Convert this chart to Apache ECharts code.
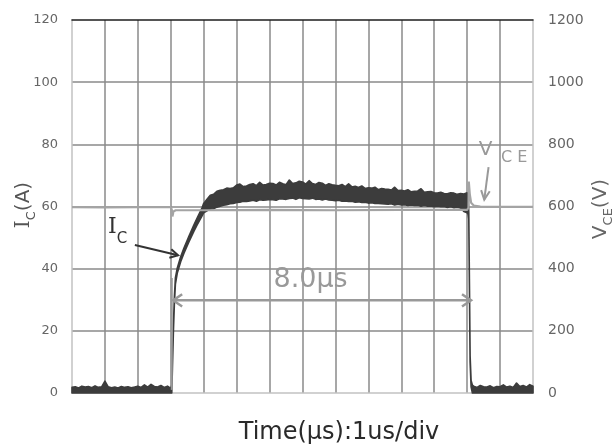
<!DOCTYPE html>
<html><head><meta charset="utf-8">
<script src="https://cdn.jsdelivr.net/npm/echarts@6/dist/echarts.min.js"></script>
<style>html,body{margin:0;padding:0;background:#fff}#c{width:612px;height:446px}</style>
</head><body><div id="c"></div>
<script>
// ---- Data ----
// Collector current I_C (A): time (us), lower and upper edge of the noisy trace
const icTime = [
  0,0.1,0.2,0.3,0.4,0.5,0.6,0.7,0.8,0.9,1.0,1.1,1.2,1.3,1.4,1.5,1.6,1.7,1.8,1.9,2.0,2.1,2.2,2.3,2.4,2.5,2.6,2.7,2.8,2.9,3.0,
  3.03,3.05,3.08,3.11,3.14,3.2,3.3,3.4,3.55,3.7,3.8,3.95,
  4.0,4.1,4.2,4.3,4.4,4.5,4.6,4.7,4.8,4.9,5.0,5.1,5.2,5.3,5.4,5.5,5.6,5.7,5.8,5.9,6.0,6.1,6.2,6.3,6.4,6.5,6.6,6.7,6.8,6.9,
  7.0,7.1,7.2,7.3,7.4,7.5,7.6,7.7,7.8,7.9,8.0,8.1,8.2,8.3,8.4,8.5,8.6,8.7,8.8,8.9,9.0,9.1,9.2,9.3,9.4,9.5,9.6,9.7,9.8,9.9,
  10.0,10.1,10.2,10.3,10.4,10.5,10.6,10.7,10.8,10.9,11.0,11.1,11.2,11.3,11.4,11.5,11.6,11.7,11.8,11.9,12.0,
  12.03,12.05,12.07,12.09,12.12,12.16,
  12.2,12.3,12.4,12.5,12.6,12.7,12.8,12.9,13.0,13.1,13.2,13.3,13.4,13.5,13.6,13.7,13.8,13.9,14.0
];
const icHigh = [
  1.8,2.0,1.6,2.2,1.9,2.1,1.7,2.3,1.8,2.0,3.8,2.0,1.7,1.9,1.6,2.1,1.8,2.0,1.7,1.9,2.2,1.8,2.6,1.9,2.8,2.1,1.9,2.4,1.8,2.2,1.5,
  2.5,10,22,31,37,40.3,43.8,46.6,50.4,54.0,56.3,59.6,
  61.0,62.3,63.6,63.9,64.9,65.2,65.4,65.9,65.8,66.0,66.9,67.2,66.4,66.6,67.1,67.3,66.7,67.8,66.9,67.1,67.5,67.4,66.9,67.8,67.3,67.0,68.5,67.4,67.6,68.1,
  67.9,67.2,68.3,67.4,67.1,67.7,67.5,66.8,67.3,67.0,66.8,66.7,67.1,66.4,67.3,66.3,66.5,66.1,66.6,65.8,66.0,65.9,66.2,65.4,65.8,65.6,65.5,65.3,66.2,65.1,
  65.2,65.0,65.4,64.7,64.9,65.0,65.7,64.6,64.7,64.8,64.4,64.3,64.6,64.2,64.1,64.4,64.3,63.9,64.2,64.0,64.4,
  63.5,58,35,12,4,2.5,
  2.2,1.8,2.4,2.0,1.9,2.3,1.7,2.1,2.0,2.6,1.9,2.2,1.8,3.2,2.1,2.4,1.9,2.7,2.2
];
const icLow = [
  0,0,0,0,0,0,0,0,0,0,0,0,0,0,0,0,0,0,0,0,0,0,0,0,0,0,0,0,0,0,0,
  0,8,20,29,35,38.7,42.2,45.0,48.6,52.0,54.1,57.0,
  58.0,58.6,59.2,59.3,59.8,60.1,60.4,60.6,60.9,61.0,61.3,61.4,61.7,61.6,61.8,62.0,61.7,62.2,62.0,62.1,62.3,62.2,62.0,62.5,62.4,62.3,62.6,62.7,62.3,62.8,
  62.6,62.5,62.4,62.7,62.3,62.4,62.1,62.4,62.1,62.0,61.9,62.0,61.7,61.8,61.6,61.7,61.4,61.5,61.3,61.4,61.1,61.2,61.0,61.0,60.9,60.8,60.7,60.9,60.5,60.7,
  60.5,60.6,60.3,60.5,60.3,60.4,60.1,60.3,60.1,60.2,59.9,60.1,59.9,60.0,59.7,59.9,59.6,59.8,59.5,58.4,58.0,
  57.5,56,33,10,2,0,
  0,0,0,0,0,0,0,0,0,0,0,0,0,0,0,0,0,0,0
];
// Collector-emitter voltage V_CE (V)
const vceTime  = [0, 1, 2, 3.0, 3.03, 3.05, 3.08, 3.15, 4, 6, 8, 10, 12.0, 12.04, 12.05, 12.08, 12.12, 12.2, 12.4, 13, 14];
const vceValue = [598, 597, 598, 598, 590, 568, 584, 588, 588, 589, 588, 589, 589, 596, 680, 640, 612, 603, 600, 599, 599];

// Axes
const timeMin = 0, timeMax = 14, timeStep = 1;       // 1 us / div
const icMin = 0, icMax = 120, icStep = 20;
const vMin = 0, vMax = 1200, vStep = 200;

// Annotation anchors (data coordinates)
const pulseStart = 3.07, pulseEnd = 12.12, pulseArrowLevel = 29.8, pulseLabel = '8.0µs';
const extLineTime = 3.03, extLineFrom = 1, extLineTo = 37;

const chart = echarts.init(document.getElementById('c'), null, {renderer: 'canvas'});
const grid = '#8a8a8a';
const option = {
  animation: false,
  backgroundColor: '#fff',
  grid: {left: 72, right: 79, top: 20, bottom: 53},
  xAxis: [
    {type: 'value', min: timeMin, max: timeMax, interval: timeStep, position: 'bottom',
     axisLine: {show: true, onZero: false, lineStyle: {color: '#c2c2c2', width: 1.5}},
     axisTick: {show: false}, axisLabel: {show: false},
     splitLine: {show: true, showMinLine: false, showMaxLine: false, lineStyle: {color: grid, width: 1.5}}},
    {type: 'value', min: timeMin, max: timeMax, interval: timeStep, position: 'top',
     axisLine: {show: true, onZero: false, lineStyle: {color: '#1e1e1e', width: 1.5}},
     axisTick: {show: false}, axisLabel: {show: false}, splitLine: {show: false}}
  ],
  yAxis: [
    {type: 'value', min: icMin, max: icMax, interval: icStep, position: 'left',
     axisLine: {show: true, onZero: false, lineStyle: {color: '#c2c2c2', width: 1.5}},
     axisTick: {show: false},
     axisLabel: {color: '#666', fontSize: 13, fontFamily: 'DejaVu Sans', margin: 14, formatter: v => String(v)},
     splitLine: {show: true, showMinLine: false, showMaxLine: false, lineStyle: {color: grid, width: 1.5}}},
    {type: 'value', min: vMin, max: vMax, interval: vStep, position: 'right',
     axisLine: {show: true, onZero: false, lineStyle: {color: '#c2c2c2', width: 1.5}},
     axisTick: {show: false},
     axisLabel: {color: '#666', fontSize: 14, fontFamily: 'DejaVu Sans', margin: 15, formatter: v => String(v)},
     splitLine: {show: false}}
  ],
  series: [
    {
      name: 'IC', type: 'custom', coordinateSystem: 'cartesian2d', xAxisIndex: 0, yAxisIndex: 0,
      data: [[icTime[0], icLow[0]]], encode: {x: 0, y: 1}, z: 3, silent: true,
      renderItem: function (params, api) {
        const pts = [];
        for (let i = 0; i < icTime.length; i++) pts.push(api.coord([icTime[i], icHigh[i]]));
        for (let i = icTime.length - 1; i >= 0; i--) pts.push(api.coord([icTime[i], icLow[i]]));
        return {type: 'polygon', shape: {points: pts},
                style: {fill: '#3c3c3c', stroke: '#3c3c3c', lineWidth: 1.6, lineJoin: 'round'}};
      }
    },
    {
      name: 'VCE', type: 'line', xAxisIndex: 0, yAxisIndex: 1, z: 4,
      data: vceTime.map((t, i) => [t, vceValue[i]]),
      showSymbol: false, symbol: 'none',
      lineStyle: {color: '#a4a4a4', width: 2.2}
    }
  ]
};
chart.setOption(option);

const P = (t, v) => chart.convertToPixel({seriesIndex: 0}, [t, v]);
const Q = (t, v) => chart.convertToPixel({seriesIndex: 1}, [t, v]);

function arrowHead(tip, from, len, spread, color, w) {
  const ang = Math.atan2(tip[1] - from[1], tip[0] - from[0]);
  const h1 = [tip[0] - len * Math.cos(ang - spread), tip[1] - len * Math.sin(ang - spread)];
  const h2 = [tip[0] - len * Math.cos(ang + spread), tip[1] - len * Math.sin(ang + spread)];
  return {type: 'polyline', z: 100, shape: {points: [h1, tip, h2]},
          style: {stroke: color, lineWidth: w, fill: null, lineJoin: 'miter'}};
}
function seg(a, b, color, w) {
  return {type: 'line', z: 100, shape: {x1: a[0], y1: a[1], x2: b[0], y2: b[1]},
          style: {stroke: color, lineWidth: w}};
}

const g = [];
// pulse width dimension arrow
const d1 = P(pulseStart, pulseArrowLevel), d2 = P(pulseEnd, pulseArrowLevel);
g.push(seg(d1, d2, '#999', 2.5));
g.push(arrowHead(d1, d2, 11, 0.6, '#999', 2.5));
g.push(arrowHead(d2, d1, 11, 0.6, '#999', 2.5));
const e1 = P(extLineTime, extLineFrom), e2 = P(extLineTime, extLineTo);
g.push(seg(e1, e2, '#9a9a9a', 2));
const lp = P((pulseStart + pulseEnd) / 2 - 0.35, 36.3);
g.push({type: 'text', z: 100, x: lp[0], y: lp[1],
        style: {text: pulseLabel, fill: '#999', font: '27px "DejaVu Sans"', align: 'center', verticalAlign: 'middle'}});

// I_C pointer
const a1 = P(1.91, 47.6), a2 = P(3.22, 44.3);
g.push(seg(a1, a2, '#333', 2));
g.push(arrowHead(a2, a1, 9, 0.5, '#333', 2));
const ti = P(1.09, 49.8);
g.push({type: 'text', z: 100, x: ti[0], y: ti[1],
        style: {text: 'I', fill: '#333', font: '22px "DejaVu Serif"', align: 'left', verticalAlign: 'bottom'}});
const tc = P(1.36, 47.0);
g.push({type: 'text', z: 100, x: tc[0], y: tc[1],
        style: {text: 'C', fill: '#333', font: '15px "DejaVu Sans"', align: 'left', verticalAlign: 'bottom'}});

// V_CE pointer
const b1 = Q(12.65, 727), b2 = Q(12.52, 622);
g.push(seg(b1, b2, '#999', 2));
g.push(arrowHead(b2, b1, 10, 0.45, '#999', 2));
const tv = Q(12.35, 760);
g.push({type: 'text', z: 100, x: tv[0], y: tv[1] + 3,
        style: {text: 'V', fill: '#999', font: '20px "DejaVu Sans"', align: 'left', verticalAlign: 'bottom'}});
const tce = Q(13.03, 739);
g.push({type: 'text', z: 100, x: tce[0], y: tce[1] + 3,
        style: {text: 'C E', fill: '#999', font: '16px "DejaVu Sans"', align: 'left', verticalAlign: 'bottom'}});

// axis titles
g.push({type: 'text', z: 100, x: 24, y: 205, rotation: Math.PI / 2,
        style: {text: '{i|I}{c|C}{p|(A)}', align: 'center', verticalAlign: 'middle',
                rich: {i: {fontFamily: 'DejaVu Serif', fontSize: 20, fill: '#555', lineHeight: 28, verticalAlign: 'middle'},
                       c: {fontFamily: 'DejaVu Sans', fontSize: 13, fill: '#555', lineHeight: 28, verticalAlign: 'bottom'},
                       p: {fontFamily: 'DejaVu Sans', fontSize: 20, fill: '#555', lineHeight: 28, verticalAlign: 'middle'}}}});
g.push({type: 'text', z: 100, x: 601, y: 209, rotation: Math.PI / 2,
        style: {text: '{v|V}{c|CE}{p|(V)}', align: 'center', verticalAlign: 'middle',
                rich: {v: {fontFamily: 'DejaVu Sans', fontSize: 20, fill: '#666', lineHeight: 28, verticalAlign: 'middle'},
                       c: {fontFamily: 'DejaVu Sans', fontSize: 13, fill: '#666', lineHeight: 28, verticalAlign: 'bottom'},
                       p: {fontFamily: 'DejaVu Sans', fontSize: 20, fill: '#666', lineHeight: 28, verticalAlign: 'middle'}}}});
g.push({type: 'text', z: 100, x: 339, y: 433,
        style: {text: 'Time(µs):1us/div', fill: '#2a2a2a', font: '24px "DejaVu Sans"', align: 'center', verticalAlign: 'middle'}});

chart.setOption({graphic: {elements: g}});
</script>
</body></html>
